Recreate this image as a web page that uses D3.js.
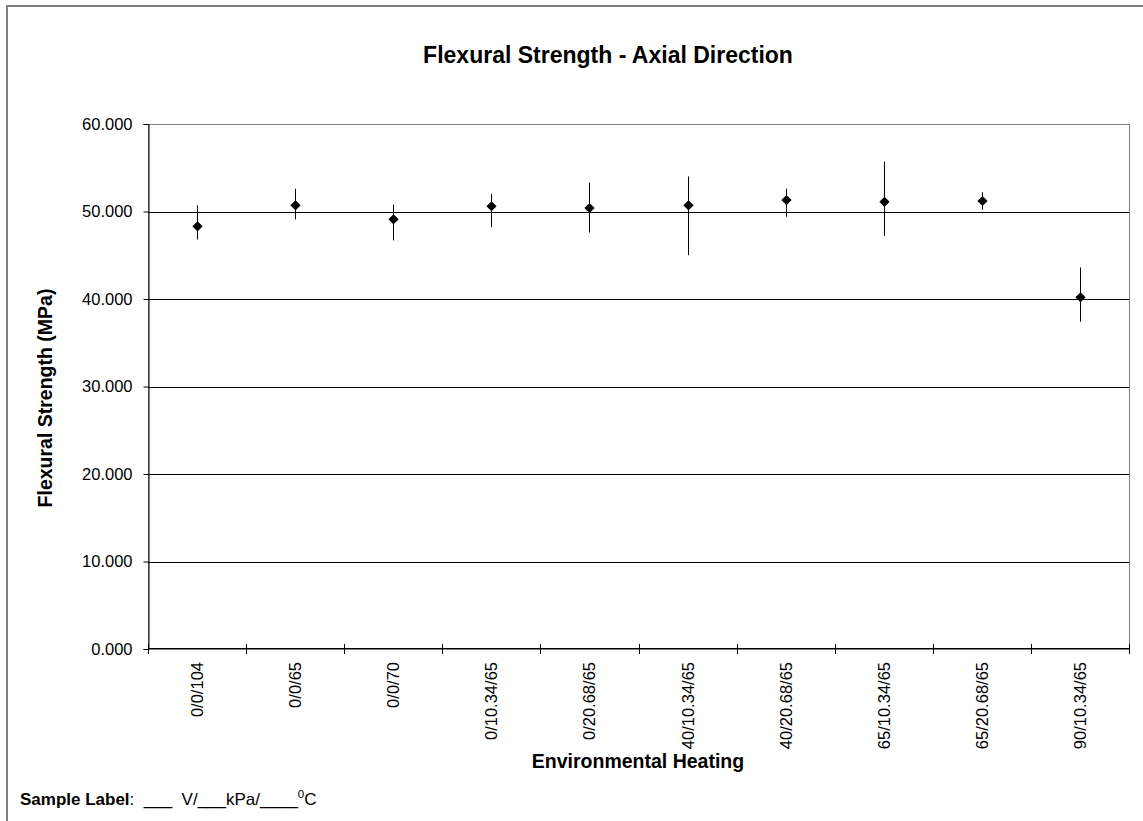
<!DOCTYPE html>
<html>
<head>
<meta charset="utf-8">
<script src="https://cdn.jsdelivr.net/npm/d3@7.9.0/dist/d3.min.js"></script>
<style>
  body { margin: 0; background: #fff; }
  text { font-family: "Liberation Sans", Arial, sans-serif; fill: #000; }
</style>
</head>
<body>
<script>
// ** Data **
const categories = ["0/0/104", "0/0/65", "0/0/70", "0/10.34/65", "0/20.68/65",
    "40/10.34/65", "40/20.68/65", "65/10.34/65", "65/20.68/65", "90/10.34/65"];
const meanStrength = [48.3, 50.7, 49.1, 50.6, 50.4, 50.7, 51.3, 51.1, 51.2, 40.2];
const upperBar = [50.7, 52.6, 50.8, 52.0, 53.3, 54.0, 52.6, 55.7, 52.2, 43.6];
const lowerBar = [46.8, 49.1, 46.7, 48.2, 47.6, 45.0, 49.4, 47.2, 50.2, 37.4];
const yTicks = [0, 10, 20, 30, 40, 50, 60];

const points = categories.map((c, i) => ({
    cat: c, mean: meanStrength[i], hi: upperBar[i], lo: lowerBar[i]
}));

// ** SVG Setup **
const width = 1143, height = 821;
const plot = { left: 148, right: 1129, top: 124, bottom: 649 };

const svg = d3.select("body").append("svg")
    .attr("width", width)
    .attr("height", height);

// chart frame (cut off at right and bottom like the source image)
svg.append("rect")
    .attr("x", 7).attr("y", 6)
    .attr("width", 1300).attr("height", 1000)
    .attr("fill", "#fff")
    .attr("stroke", "#808080")
    .attr("stroke-width", 2);

const x = d3.scaleBand()
    .domain(categories)
    .range([plot.left, plot.right]);

const y = d3.scaleLinear()
    .domain([0, 60])
    .range([plot.bottom, plot.top]);

// plot area border
svg.append("rect")
    .attr("x", plot.left).attr("y", plot.top)
    .attr("width", plot.right - plot.left)
    .attr("height", plot.bottom - plot.top)
    .attr("fill", "none")
    .attr("stroke", "#808080")
    .attr("shape-rendering", "crispEdges");

// gridlines
svg.append("g")
    .selectAll("line")
    .data(yTicks.filter(t => t > 0 && t < 60))
    .join("line")
    .attr("x1", plot.left).attr("x2", plot.right)
    .attr("y1", d => Math.round(y(d)) + 0.5)
    .attr("y2", d => Math.round(y(d)) + 0.5)
    .attr("stroke", "#000");

// ** Y axis **
const yAxis = svg.append("g")
    .attr("transform", `translate(${plot.left + 0.5},0)`)
    .call(d3.axisLeft(y).tickValues(yTicks).tickFormat(d3.format(".3f")).tickSize(5).tickPadding(11));
yAxis.select(".domain").attr("stroke", "#000");
yAxis.selectAll("text")
    .style("font-family", "'Liberation Sans', Arial, sans-serif")
    .style("font-size", "16.5px")
    .attr("fill", "#000");

// ** X axis: ticks at band edges, crossing the axis **
const xg = svg.append("g");
xg.append("line")
    .attr("x1", plot.left).attr("x2", plot.right)
    .attr("y1", plot.bottom - 0.5).attr("y2", plot.bottom - 0.5)
    .attr("stroke", "#000");
const edges = categories.map(c => x(c)).concat([x(categories[categories.length - 1]) + x.bandwidth()]);
xg.selectAll("line.tick")
    .data(edges)
    .join("line")
    .attr("class", "tick")
    .attr("x1", d => Math.round(d) + 0.5).attr("x2", d => Math.round(d) + 0.5)
    .attr("y1", plot.bottom - 5).attr("y2", plot.bottom + 5)
    .attr("stroke", "#000");
xg.selectAll("text")
    .data(categories)
    .join("text")
    .attr("transform", d => `translate(${x(d) + x.bandwidth() / 2 + 6},${plot.bottom + 13}) rotate(-90)`)
    .attr("text-anchor", "end")
    .style("font-size", "16.5px")
    .text(d => d);

// ** Error bars **
svg.append("g")
    .selectAll("line")
    .data(points)
    .join("line")
    .attr("x1", d => Math.round(x(d.cat) + x.bandwidth() / 2) + 0.5)
    .attr("x2", d => Math.round(x(d.cat) + x.bandwidth() / 2) + 0.5)
    .attr("y1", d => y(d.hi))
    .attr("y2", d => y(d.lo))
    .attr("stroke", "#000")
    .attr("stroke-width", 1);

// ** Diamond markers **
const diamond = d3.symbol(d3.symbolSquare, 52);
svg.append("g")
    .selectAll("path")
    .data(points)
    .join("path")
    .attr("d", diamond)
    .attr("transform", d => `translate(${Math.round(x(d.cat) + x.bandwidth() / 2) + 0.5},${y(d.mean)}) rotate(45)`)
    .attr("fill", "#000");

// ** Titles **
svg.append("text")
    .attr("x", 608).attr("y", 63)
    .attr("text-anchor", "middle")
    .style("font-size", "23px")
    .style("font-weight", "bold")
    .text("Flexural Strength - Axial Direction");

svg.append("text")
    .attr("transform", "translate(52,398) rotate(-90)")
    .attr("text-anchor", "middle")
    .style("font-size", "19.5px")
    .style("font-weight", "bold")
    .text("Flexural Strength (MPa)");

svg.append("text")
    .attr("x", 638).attr("y", 768)
    .attr("text-anchor", "middle")
    .style("font-size", "19.5px")
    .style("font-weight", "bold")
    .text("Environmental Heating");

// ** Sample label note **
const note = svg.append("text")
    .attr("x", 20).attr("y", 805)
    .attr("xml:space", "preserve")
    .style("white-space", "pre")
    .style("font-size", "17px");
note.append("tspan").style("font-weight", "bold").text("Sample Label");
note.append("tspan").text(":  ___  V/___kPa/____");
note.append("tspan").attr("dy", -7).style("font-size", "11.5px").text("0");
note.append("tspan").attr("dy", 7).text("C");
</script>
</body>
</html>
